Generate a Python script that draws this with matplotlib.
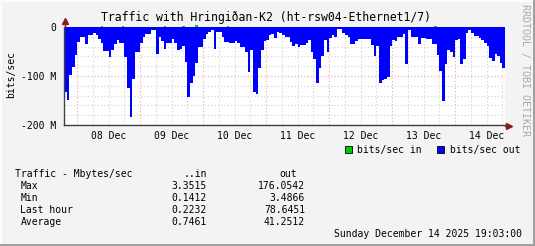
import numpy as np
import pandas as pd
import matplotlib
matplotlib.use('Agg')
import matplotlib.pyplot as plt
import matplotlib.dates as mdates
from matplotlib.patches import Rectangle
from matplotlib.lines import Line2D
from matplotlib.ticker import FixedLocator, FuncFormatter, NullFormatter

# dimensioni in pixel dell'immagine
W, H = 535, 246

# dati: traffico orario in uscita (Mbit/s), da 07 Dec 19:00 a 14 Dec 19:00
start = '2025-12-07 19:00'
out_mbit = [
    132, 149, 98, 81, 57, 30, 20, 20, 35, 16,
    16, 12, 16, 24, 33, 48, 48, 61, 47, 35,
    27, 33, 33, 62, 125, 184, 107, 52, 52, 32,
    20, 14, 14, 7, 7, 55, 20, 28, 44, 32,
    32, 25, 32, 47, 44, 39, 71, 142, 115, 100,
    74, 40, 40, 25, 14, 10, 7, 45, 10, 10,
    20, 30, 30, 32, 32, 29, 33, 40, 40, 52,
    91, 47, 132, 137, 84, 47, 28, 27, 16, 14,
    23, 10, 13, 16, 20, 20, 30, 38, 35, 40,
    37, 37, 32, 27, 50, 66, 115, 84, 60, 27,
    50, 23, 16, 20, 5, 5, 12, 16, 21, 35,
    35, 28, 25, 25, 24, 24, 24, 37, 59, 39,
    115, 109, 107, 103, 39, 27, 28, 20, 20, 14,
    75, 6, 20, 20, 20, 35, 23, 23, 25, 25,
    35, 35, 57, 89, 152, 75, 47, 52, 62, 27,
    25, 75, 66, 12, 7, 12, 18, 18, 23, 27,
    32, 39, 64, 69, 56, 60, 74, 83,
]

# traffico in ingresso: solo i picchi visibili sopra lo zero (Mbit/s)
in_hours = [14, 22, 38, 45, 50, 62, 141]
in_mbit = [2.4, 2.1, 2.3, 2.8, 3.35, 2.5, 2.2]

y_ticks = [0, -100e6, -200e6]
y_ticklabels = ['0', '-100 M', '-200 M']

stat_names = ['Max', 'Min', 'Last hour', 'Average']
stat_in = ['3.3515', '0.1412', '0.2232', '0.7461']
stat_out = ['176.0542', '3.4866', '78.6451', '41.2512']

title = 'Traffic with Hringiðan-K2 (ht-rsw04-Ethernet1/7)'
timestamp = 'Sunday December 14 2025 19:03:00'

plt.rcParams['font.family'] = ['DejaVu Sans Mono']
FS = 7

def px(x, y):
    # da pixel (origine in alto a sinistra) a coordinate della figura
    return x / W, 1 - y / H

fig = plt.figure(figsize=(W / 100, H / 100), dpi=100, facecolor='#F3F3F3')

# area del grafico: x 64..505, y 27..125
ax = fig.add_axes([64 / W, 1 - 125 / H, 441 / W, 98 / H])
ax.set_facecolor('white')

times = pd.date_range(start, periods=len(out_mbit) + 1, freq='h')
t = mdates.date2num(times.to_pydatetime())
out_vals = -np.array(out_mbit + out_mbit[-1:], dtype=float) * 1e6
ax.fill_between(t, out_vals, 0, step='post', color='#0000FF', lw=0, zorder=2)

in_t = [t[h] for h in in_hours]
ax.bar(in_t, np.array(in_mbit) * 1e6, width=1 / 24, align='edge',
       color='#00CC00', lw=0, clip_on=False, zorder=3)

ax.set_xlim(t[0], t[-1])
ax.set_ylim(-200e6, 0)

# griglia: rossa a mezzanotte e ogni 100 M, grigia ogni 6 ore e ogni 20 M
ax.xaxis.set_major_locator(mdates.DayLocator())
ax.xaxis.set_minor_locator(mdates.HourLocator(byhour=[6, 12, 18]))
ax.xaxis.set_major_formatter(NullFormatter())

def day_label(x, pos):
    d = mdates.num2date(x)
    return d.strftime('%d %b') if d.hour == 12 else ''

ax.xaxis.set_minor_formatter(FuncFormatter(day_label))
ax.yaxis.set_major_locator(FixedLocator(y_ticks))
ax.yaxis.set_minor_locator(FixedLocator(np.arange(-200e6, 1, 20e6)))
ax.set_yticklabels(y_ticklabels)

dots = (0, (1, 2))
ax.grid(which='major', color='#F2A0A0', linestyle=dots, lw=0.8)
ax.grid(which='minor', color='#CFCFCF', linestyle=dots, lw=0.8)
ax.set_axisbelow(True)

ax.tick_params(which='both', length=0, labelsize=FS, colors='black')
ax.tick_params(axis='x', which='minor', pad=4)
ax.tick_params(axis='y', pad=5.5)

for s in ['top', 'right']:
    ax.spines[s].set_visible(False)
for s in ['left', 'bottom']:
    ax.spines[s].set_color('#404040')
    ax.spines[s].set_linewidth(1)
    ax.spines[s].set_zorder(4)

# frecce sugli assi
arrow_c = '#8B1A1A'
fig.add_artist(Line2D([px(64.5, 0)[0]] * 2, [px(0, 27)[1], px(0, 21)[1]],
                      color='#404040', lw=1))
fig.add_artist(Line2D([px(505, 0)[0], px(508, 0)[0]], [px(0, 125.5)[1]] * 2,
                      color='#404040', lw=1))
fig.add_artist(Line2D([px(64.5, 0)[0]], [px(0, 20.5)[1]], marker='^', ms=5,
                      color=arrow_c, lw=0))
fig.add_artist(Line2D([px(509, 0)[0]], [px(0, 125.5)[1]], marker='>', ms=5,
                      color=arrow_c, lw=0))

# titolo, etichetta asse y e scritta laterale
fig.text(*px(266, 17), title, fontsize=8.3, ha='center', va='center')
fig.text(*px(11, 75), 'bits/sec', fontsize=FS, rotation=90,
         ha='center', va='center')
fig.text(*px(525, 4), 'RRDTOOL / TOBI OETIKER', fontsize=7.2, rotation=270,
         ha='center', va='top', color='#A8A8A8')

# legenda
for bx, tx, col, lab in [(345, 357, '#00CC00', 'bits/sec in'),
                         (437, 449.5, '#0000FF', 'bits/sec out')]:
    x0, y0 = px(bx, 153)
    fig.add_artist(Rectangle((x0, y0), 7 / W, 7 / H, facecolor=col,
                             edgecolor='black', lw=0.6,
                             transform=fig.transFigure))
    fig.text(*px(tx, 149.5), lab, fontsize=FS, ha='left', va='center')

# tabella statistiche
fig.text(*px(15, 174), 'Traffic - Mbytes/sec', fontsize=FS, va='center')
fig.text(*px(207, 174), '..in', fontsize=FS, va='center', ha='right')
fig.text(*px(279, 174), 'out', fontsize=FS, va='center', ha='left')
for i, name in enumerate(stat_names):
    yy = 186 + i * 12
    fig.text(*px(20.5, yy), name, fontsize=FS, va='center')
    fig.text(*px(207, yy), stat_in[i], fontsize=FS, va='center', ha='right')
    fig.text(*px(305, yy), stat_out[i], fontsize=FS, va='center', ha='right')
fig.text(*px(522, 234), timestamp, fontsize=FS, va='center', ha='right')

# bordo ombreggiato
fig.add_artist(Rectangle((0, 0), 1, 2 / H, color='#A0A0A0', lw=0,
                         transform=fig.transFigure))
fig.add_artist(Rectangle((1 - 2 / W, 0), 2 / W, 1, color='#A0A0A0', lw=0,
                         transform=fig.transFigure))
fig.add_artist(Rectangle((0, 1 - 2 / H), 1 - 2 / W, 2 / H, color='#FCFCFC',
                         lw=0, transform=fig.transFigure))
fig.add_artist(Rectangle((0, 2 / H), 2 / W, 1 - 4 / H, color='#FCFCFC',
                         lw=0, transform=fig.transFigure))

fig.savefig('out.png', dpi=100, facecolor=fig.get_facecolor())
